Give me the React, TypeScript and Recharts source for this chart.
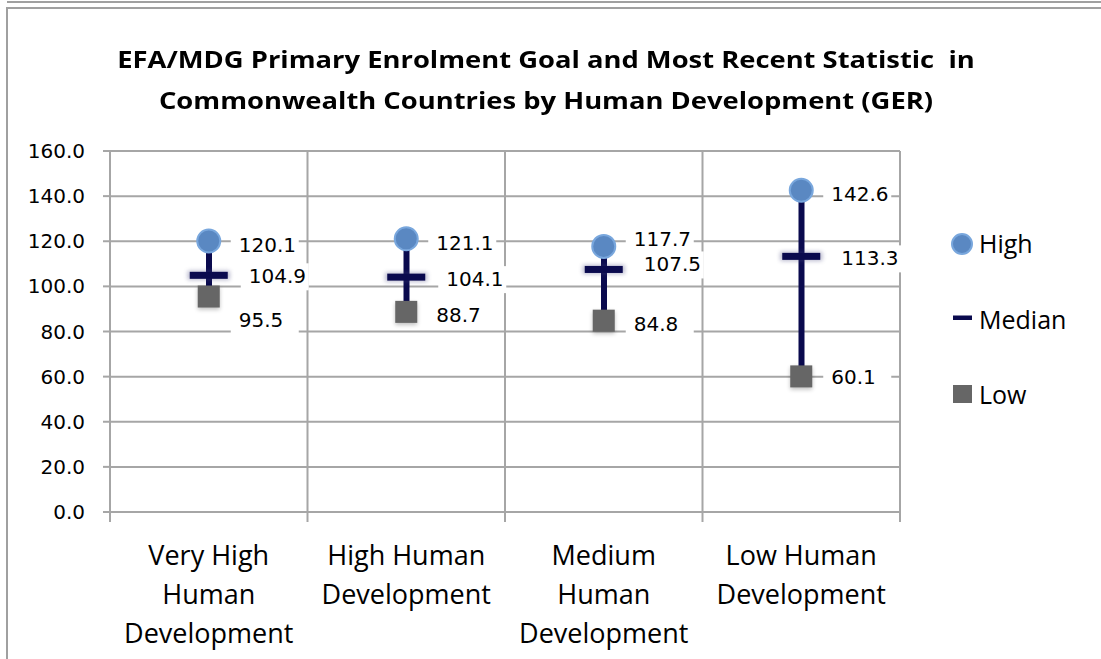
import React from 'react';
import { ComposedChart, Bar, Line, XAxis, YAxis, CartesianGrid, LabelList } from 'recharts';

const categories = ['Very High Human Development', 'High Human Development', 'Medium Human Development', 'Low Human Development'];
const categoryLines = [['Very High', 'Human', 'Development'], ['High Human', 'Development'], ['Medium', 'Human', 'Development'], ['Low Human', 'Development']];
const seriesNames = ['High', 'Median', 'Low'];
const highValues = [120.1, 121.1, 117.7, 142.6];
const medianValues = [104.9, 104.1, 107.5, 113.3];
const lowValues = [95.5, 88.7, 84.8, 60.1];
const yTicks = [0, 20, 40, 60, 80, 100, 120, 140, 160];

// label vertical nudges (layout only)
const highNudge = [4, 4, -7, 4];
const medianNudge = [1, 2, -5, 2];
const lowNudge = [23, 3, 3, 1];

const data = categories.map((c, i) => ({
  cat: c,
  high: highValues[i],
  median: medianValues[i],
  low: lowValues[i],
  range: [lowValues[i], highValues[i]],
}));

const W = 1101;
const H = 659;
const M = { top: 151, right: 201, bottom: 0, left: 30 };
const Y_W = 80;
const X_H = 147;
const PLOT_W = W - M.left - M.right - Y_W;
const BAND = PLOT_W / categories.length;

const GRID = '#a6a6a6';
const NAVY = '#0a0a4e';
const NUM_FONT = 'DejaVu Sans';
const TXT_FONT = 'Open Sans';

const HighDot = (p: any) => {
  if (p.cx == null || p.cy == null) return <g />;
  return <circle cx={p.cx} cy={p.cy} r={11.5} fill="#5a88c2" stroke="#79a7dd" strokeWidth={2} />;
};
const MedianDot = (p: any) => {
  if (p.cx == null || p.cy == null) return <g />;
  return (
    <g>
      <rect x={p.cx - 21} y={p.cy - 4.5} width={42} height={9} fill="#4a4a80" opacity={0.4} filter="url(#blur2)" />
      <rect x={p.cx - 19} y={p.cy - 3.5} width={38} height={7} fill={NAVY} />
    </g>
  );
};
const LowDot = (p: any) => {
  if (p.cx == null || p.cy == null) return <g />;
  return (
    <g>
      <rect x={p.cx - 11} y={p.cy - 9} width={22} height={22} fill="#000" opacity={0.25} filter="url(#blur2)" />
      <rect x={p.cx - 11} y={p.cy - 11} width={22} height={22} fill="#666666" />
    </g>
  );
};

const makeLabel = (dx: number, nudge: number[]) => (p: any) => {
  const { x, y, value, index } = p;
  if (x == null || y == null) return null;
  const tx = x + dx;
  const ty = y + (nudge[index] || 0);
  return (
    <g>
      <rect x={tx - 8} y={ty - 13} width={68} height={27} fill="#ffffff" />
      <text x={tx} y={ty} dy={7} fontFamily={NUM_FONT} fontSize={20} fill="#000">
        {Number(value).toFixed(1)}
      </text>
    </g>
  );
};

const XTick = (p: any) => {
  const { x, y, index } = p;
  const lines = categoryLines[index] || [];
  return (
    <g>
      <line x1={x - BAND / 2} x2={x - BAND / 2} y1={y} y2={y + 10} stroke={GRID} strokeWidth={2} />
      {index === categories.length - 1 && (
        <line x1={x + BAND / 2} x2={x + BAND / 2} y1={y} y2={y + 10} stroke={GRID} strokeWidth={2} />
      )}
      <text x={x} y={y + 53} textAnchor="middle" fontFamily={TXT_FONT} fontSize={27} fill="#000">
        {lines.map((l: string, i: number) => (
          <tspan key={i} x={x} dy={i === 0 ? 0 : 39}>{l}</tspan>
        ))}
      </text>
    </g>
  );
};

const LegendBox = () => (
  <svg width={150} height={200} style={{ position: 'absolute', left: 945, top: 225 }}>
    {seriesNames.map((name, i) => {
      const cy = 19 + i * 75.5;
      return (
        <g key={name}>
          {i === 0 && <circle cx={17} cy={cy} r={10} fill="#5a88c2" stroke="#79a7dd" strokeWidth={2} />}
          {i === 1 && <rect x={8} y={cy - 4} width={19} height={4.5} fill={NAVY} />}
          {i === 2 && <rect x={8} y={cy - 10} width={19} height={18} fill="#666666" />}
          <text x={34} y={cy} dy={9} fontFamily={TXT_FONT} fontSize={25} fill="#000">{name}</text>
        </g>
      );
    })}
  </svg>
);

export default function App() {
  return (
    <div style={{ position: 'absolute', left: 0, top: 0, width: W, height: H, background: '#fff', overflow: 'hidden' }}>
      <div style={{ position: 'absolute', left: 7, top: 1, width: W - 7, height: 2, background: '#a0a0a0' }} />
      <div style={{ position: 'absolute', left: 6, top: 7, width: W - 6, height: 2, background: '#a0a0a0' }} />
      <div style={{ position: 'absolute', left: 6, top: 7, width: 2, height: H - 7, background: '#a0a0a0' }} />
      <div
        style={{
          position: 'absolute',
          left: 0,
          top: 38,
          width: 1092,
          textAlign: 'center',
          fontFamily: TXT_FONT,
          fontWeight: 700,
          fontSize: 24,
          lineHeight: '41px',
          color: '#000',
          transform: 'scaleX(1.14)',
          transformOrigin: '546px 0',
        }}
      >
        EFA/MDG Primary Enrolment Goal and Most Recent Statistic&nbsp; in
        <br />
        Commonwealth Countries by Human Development (GER)
      </div>
      <div style={{ position: 'absolute', left: 0, top: 0 }}>
        <ComposedChart width={W} height={H} data={data} margin={M} barCategoryGap={0}>
          <defs>
            <filter id="blur2" x="-50%" y="-50%" width="200%" height="200%">
              <feGaussianBlur stdDeviation="2" />
            </filter>
          </defs>
          <CartesianGrid
            stroke={GRID}
            strokeWidth={2}
            verticalCoordinatesGenerator={({ offset }: any) =>
              categories.map((_, i) => offset.left + i * (offset.width / categories.length)).concat([offset.left + offset.width])
            }
          />
          <XAxis
            dataKey="cat"
            height={X_H}
            axisLine={{ stroke: GRID, strokeWidth: 2 }}
            tickLine={false}
            tickSize={0}
            tickMargin={0}
            interval={0}
            tick={<XTick />}
          />
          <YAxis
            width={Y_W}
            domain={[0, 160]}
            ticks={yTicks}
            interval={0}
            axisLine={{ stroke: GRID, strokeWidth: 2 }}
            tickLine={{ stroke: GRID, strokeWidth: 2 }}
            tickSize={7}
            tickMargin={18}
            tickFormatter={(v: number) => v.toFixed(1)}
            tick={{ fontFamily: NUM_FONT, fontSize: 20, fill: '#000' }}
          />
          <Bar dataKey="range" barSize={6} fill={NAVY} isAnimationActive={false} legendType="none" />
          <Line dataKey="high" name="High" stroke="none" dot={<HighDot />} activeDot={false} isAnimationActive={false}>
            <LabelList dataKey="high" content={makeLabel(30, highNudge)} />
          </Line>
          <Line dataKey="median" name="Median" stroke="none" dot={<MedianDot />} activeDot={false} isAnimationActive={false}>
            <LabelList dataKey="median" content={makeLabel(40, medianNudge)} />
          </Line>
          <Line dataKey="low" name="Low" stroke="none" dot={<LowDot />} activeDot={false} isAnimationActive={false}>
            <LabelList dataKey="low" content={makeLabel(30, lowNudge)} />
          </Line>
        </ComposedChart>
      </div>
      <LegendBox />
    </div>
  );
}
